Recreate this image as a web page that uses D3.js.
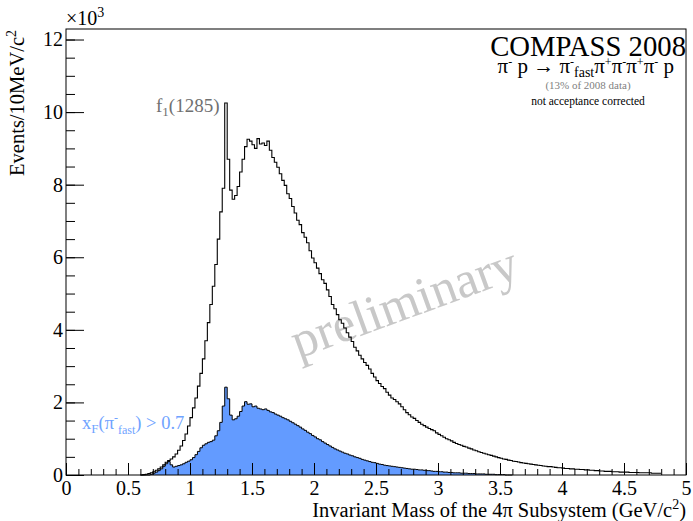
<!DOCTYPE html>
<html><head><meta charset="utf-8">
<script src="https://cdn.jsdelivr.net/npm/d3@7"></script>
<style>
body{margin:0;background:#fff;}
text{font-family:"Liberation Serif","Times New Roman",serif;}
</style></head>
<body><svg id="c" width="693" height="521"></svg>
<script>
// ---- data (values in units of 10^3 events / 10 MeV) ----
const binStart = 0.60;   // GeV, lower edge of first listed bin
const binWidth = 0.02;   // GeV
const totalCounts = [
0.00,0.01,0.02,0.04,0.06,0.09,0.13,0.17,0.22,0.28,
0.35,0.40,0.44,0.50,0.58,0.68,0.80,0.95,1.13,1.35,
1.58,1.85,2.12,2.45,2.80,3.20,3.70,4.20,4.70,5.20,
5.80,6.50,7.25,7.90,10.25,8.70,7.85,7.60,7.70,7.95,
8.35,8.70,9.05,9.25,9.20,9.10,9.00,9.27,9.12,9.15,
9.08,9.20,8.95,8.75,8.62,8.48,8.30,8.12,7.98,7.75,
7.62,7.40,7.22,7.02,6.90,6.68,6.55,6.40,6.18,5.98,
5.85,5.70,5.55,5.38,5.28,5.10,4.92,4.70,4.58,4.42,
4.28,4.18,4.05,3.92,3.80,3.68,3.52,3.42,3.30,3.20,
3.10,3.02,2.92,2.80,2.70,2.60,2.52,2.44,2.38,2.28,
2.20,2.12,2.08,2.02,1.96,1.88,1.80,1.72,1.66,1.60,
1.56,1.50,1.45,1.40,1.36,1.32,1.28,1.25,1.22,1.16,
1.12,1.08,1.04,1.00,0.97,0.94,0.90,0.87,0.84,0.82,
0.79,0.77,0.74,0.72,0.69,0.67,0.64,0.62,0.60,0.58,
0.56,0.54,0.52,0.50,0.48,0.46,0.44,0.43,0.41,0.40,
0.38,0.37,0.36,0.34,0.33,0.32,0.31,0.30,0.29,0.28,
0.27,0.26,0.25,0.24,0.23,0.23,0.22,0.21,0.20,0.20,
0.19,0.18,0.18,0.17,0.17,0.16,0.16,0.15,0.15,0.14,
0.14,0.13,0.13,0.12,0.12,0.11,0.11,0.10,0.10,0.10,
0.09,0.09,0.09,0.08,0.08,0.08,0.08,0.07,0.07,0.07,
0.07,0.06,0.06,0.06,0.06,0.06,0.05,0.05,0.05,0.05
];
const fastCounts = [
0.00,0.00,0.00,0.00,0.02,0.05,0.08,0.12,0.17,0.24,
0.31,0.37,0.28,0.22,0.24,0.26,0.28,0.31,0.35,0.38,
0.42,0.48,0.56,0.65,0.75,0.82,0.86,0.90,0.92,0.96,
1.08,1.22,1.45,1.90,2.42,2.10,1.65,1.52,1.55,1.62,
1.75,1.90,2.02,1.95,1.96,1.88,1.90,1.84,1.82,1.80,
1.82,1.78,1.74,1.72,1.68,1.65,1.62,1.58,1.55,1.52,
1.48,1.44,1.40,1.36,1.32,1.27,1.23,1.18,1.14,1.09,
1.05,1.00,0.97,0.92,0.88,0.84,0.80,0.76,0.72,0.69,
0.66,0.63,0.60,0.58,0.55,0.53,0.50,0.48,0.46,0.43,
0.41,0.39,0.37,0.35,0.34,0.32,0.30,0.29,0.27,0.26,
0.25,0.24,0.23,0.22,0.21,0.20,0.19,0.18,0.17,0.16,
0.16,0.15,0.14,0.14,0.13,0.12,0.12,0.11,0.10,0.10,
0.09,0.09,0.08,0.08,0.07,0.07,0.06,0.06,0.06,0.05,
0.05,0.05,0.04,0.04,0.04,0.03,0.03,0.03,0.03,0.02,
0.02,0.02,0.02,0.01,0.01,0.01,0.01,0.00,0.00,0.00
];
const xTickValues = [0,0.5,1,1.5,2,2.5,3,3.5,4,4.5,5];
const yTickValues = [0,2,4,6,8,10,12];

// ---- layout ----
const svg = d3.select("#c");
const L=66, R=686, T=29, B=475;
const x = d3.scaleLinear().domain([0,5]).range([L,R]);
const y = d3.scaleLinear().domain([0,12.29]).range([B,T]);

function histPoints(counts){
  const pts = counts.map((v,i)=>[binStart+i*binWidth, v]);
  pts.push([binStart+counts.length*binWidth, counts[counts.length-1]]);
  return pts;
}
const totPts = histPoints(totalCounts);
const fastPts = histPoints(fastCounts);

// watermark
svg.append("text")
  .attr("transform","translate(410,318) rotate(-20)")
  .attr("text-anchor","middle")
  .attr("font-size",51).attr("fill","#c8c8c8")
  .text("preliminary");

// blue filled histogram
svg.append("path")
  .datum(fastPts)
  .attr("d", d3.area().x(d=>x(d[0])).y0(y(0)).y1(d=>y(d[1])).curve(d3.curveStepAfter))
  .attr("fill","#639bff");
svg.append("path")
  .datum(fastPts)
  .attr("d", d3.line().x(d=>x(d[0])).y(d=>y(d[1])).curve(d3.curveStepAfter))
  .attr("fill","none").attr("stroke","#000").attr("stroke-width",1);

// total histogram
svg.append("path")
  .datum(totPts)
  .attr("d", d3.line().x(d=>x(d[0])).y(d=>y(d[1])).curve(d3.curveStepAfter))
  .attr("fill","none").attr("stroke","#000").attr("stroke-width",1.1);

// frame
svg.append("rect").attr("x",L).attr("y",T).attr("width",R-L).attr("height",B-T)
  .attr("fill","none").attr("stroke","#000").attr("stroke-width",1);

// axes (ticks inside, ROOT style)
const xMajor = d3.axisBottom(x).tickValues(xTickValues).tickSize(-12).tickPadding(6)
  .tickFormat(d3.format("~g"));
const xMinor = d3.axisBottom(x).ticks(50).tickSize(-6).tickFormat("");
const gxm = svg.append("g").attr("transform",`translate(0,${B})`).call(xMinor);
const gx = svg.append("g").attr("transform",`translate(0,${B})`).call(xMajor);
const yMajor = d3.axisLeft(y).tickValues(yTickValues).tickSize(-18).tickPadding(3);
const yMinor = d3.axisLeft(y).tickValues(d3.range(0,12.3,0.5)).tickSize(-9).tickFormat("");
const gym = svg.append("g").attr("transform",`translate(${L},0)`).call(yMinor);
const gy = svg.append("g").attr("transform",`translate(${L},0)`).call(yMajor);
[gx,gxm,gy,gym].forEach(g=>{
  g.select(".domain").remove();
  g.selectAll("line").attr("stroke","#000");
  g.selectAll("text").attr("font-family","Liberation Serif").attr("font-size",20).attr("fill","#000");
});

// exponent
const ex = svg.append("text").attr("x",66).attr("y",25).attr("font-size",20);
ex.append("tspan").text("×10");
ex.append("tspan").attr("dy",-8).attr("font-size",14).text("3");

// axis titles
const yt = svg.append("text").attr("transform","translate(24,30) rotate(-90)")
  .attr("text-anchor","end").attr("font-size",20.5);
yt.append("tspan").text("Events/10MeV/c");
yt.append("tspan").attr("dy",-8).attr("font-size",14).text("2");

const xt = svg.append("text").attr("x",686).attr("y",517).attr("text-anchor","end").attr("font-size",20.5);
xt.append("tspan").text("Invariant Mass of the 4π Subsystem (GeV/c");
xt.append("tspan").attr("dy",-8).attr("font-size",14).text("2");
xt.append("tspan").attr("dy",8).text(")");

// header texts
svg.append("text").attr("x",686).attr("y",56).attr("text-anchor","end").attr("font-size",28.7).text("COMPASS 2008");
const rx = svg.append("text").attr("x",674).attr("y",73).attr("text-anchor","end").attr("font-size",21);
rx.append("tspan").text("π");
rx.append("tspan").attr("dy",-7).attr("font-size",12).text("-");
rx.append("tspan").attr("dy",7).text(" p → π");
rx.append("tspan").attr("dy",-7).attr("font-size",12).text("-");
rx.append("tspan").attr("dy",11).attr("font-size",14).text("fast");
rx.append("tspan").attr("dy",-4).text("π");
rx.append("tspan").attr("dy",-7).attr("font-size",12).text("+");
rx.append("tspan").attr("dy",7).text("π");
rx.append("tspan").attr("dy",-7).attr("font-size",12).text("-");
rx.append("tspan").attr("dy",7).text("π");
rx.append("tspan").attr("dy",-7).attr("font-size",12).text("+");
rx.append("tspan").attr("dy",7).text("π");
rx.append("tspan").attr("dy",-7).attr("font-size",12).text("-");
rx.append("tspan").attr("dy",7).text(" p");

svg.append("text").attr("x",588).attr("y",89).attr("text-anchor","middle").attr("font-size",11)
  .attr("fill","#808080").text("(13% of 2008 data)");
svg.append("text").attr("x",588).attr("y",105).attr("text-anchor","middle").attr("font-size",11.5)
  .attr("fill","#000").text("not acceptance corrected");

// annotations
const f1 = svg.append("text").attr("x",156).attr("y",112).attr("font-size",19).attr("fill","#707070");
f1.append("tspan").text("f");
f1.append("tspan").attr("dy",4).attr("font-size",13).text("1");
f1.append("tspan").attr("dy",-4).text("(1285)");

const xf = svg.append("text").attr("x",82).attr("y",429).attr("font-size",18.5).attr("fill","#6fa3ff");
xf.append("tspan").text("x");
xf.append("tspan").attr("dy",4).attr("font-size",13).text("F");
xf.append("tspan").attr("dy",-4).text("(π");
xf.append("tspan").attr("dy",-7).attr("font-size",12).text("-");
xf.append("tspan").attr("dy",12).attr("font-size",12).text("fast");
xf.append("tspan").attr("dy",-5).text(") > 0.7");
</script></body></html>
